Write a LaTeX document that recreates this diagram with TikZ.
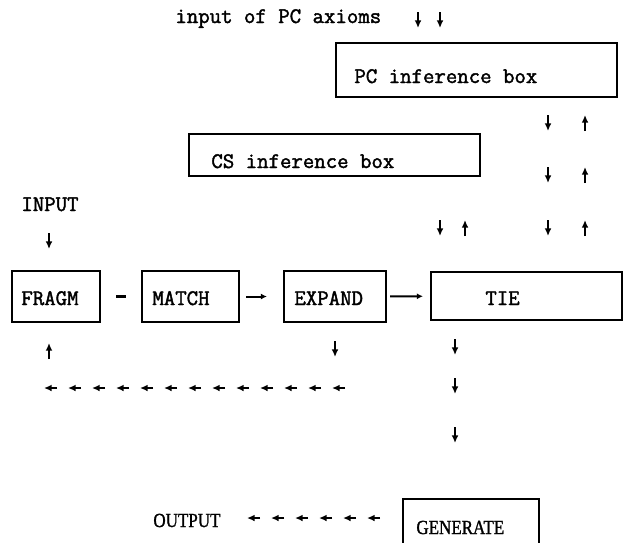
\documentclass[tikz,border=0pt]{standalone}
\usepackage{fontspec}
\usetikzlibrary{arrows.meta}
\newfontfamily\genfont[FakeBold=1.2, FakeStretch=0.85]{Liberation Serif}
\newfontfamily\typefont[FakeBold=1.8]{Latin Modern Mono}
\newcommand\tw{\typefont\fontsize{11.1}{13}\selectfont}
\newcommand\rw{\genfont\fontsize{10}{12}\selectfont}

\begin{document}
\begin{tikzpicture}[x=0.5pt, y=-0.5pt,
    box/.style={draw, line width=1.1pt, inner sep=0pt},
    lbl/.style={font=\tw, inner sep=0pt, anchor=base west},
    glyph/.style={line width=1.1pt, -{Latex[length=3.8pt, width=3.4pt]}},
    link/.style={line width=1pt, -{Latex[length=3pt, width=3pt]}}]
  \useasboundingbox (0,0) rectangle (624,542);
  \clip (0,0) rectangle (624,542);

  % boxes
  \node[box, minimum width=140.5pt, minimum height=27pt] (pc) at (476.5,70) {};
  \node[box, minimum width=145.5pt, minimum height=21pt] (cs) at (334.5,155) {};
  \node[box, minimum width=44pt, minimum height=25.5pt] (fragm) at (56,296.5) {};
  \node[box, minimum width=48.5pt, minimum height=25.5pt] (match) at (190.5,296.5) {};
  \node[box, minimum width=51pt, minimum height=25.5pt] (expand) at (335,296.5) {};
  \node[box, minimum width=95.5pt, minimum height=24pt] (tie) at (526.5,296) {};
  \node[box, minimum width=68pt, minimum height=30.5pt] (generate) at (471,529.5) {};

  % texts
  \node[lbl] (axioms) at (175,23) {input of PC axioms};
  \node[lbl] (pclbl) at (354,83) {PC inference box};
  \node[lbl] (cslbl) at (211,168) {CS inference box};
  \node[lbl] (input) at (21,211) {INPUT};
  \node[lbl] (fragmlbl) at (21,305) {FRAGM};
  \node[lbl] (matchlbl) at (152,305) {MATCH};
  \node[lbl] (expandlbl) at (294,305) {EXPAND};
  \node[lbl] (tielbl) at (485,305) {TIE};
  \node[lbl, font=\rw] (output) at (153,527) {OUTPUT};
  \node[lbl, font=\rw] (generatelbl) at (416,534) {GENERATE};

  % links along the row
  \draw[line width=1.2pt, shorten <=7.5pt, shorten >=7.5pt] (fragm) -- (match);
  \draw[link, shorten <=3pt, shorten >=8pt] (match) -- (expand);
  \draw[link, shorten <=1.5pt, shorten >=3.5pt] (expand) -- (tie);

  % single arrows
  \foreach \x/\y/\d [count=\i] in {418/12/1, 440/12/1, 440/220/1, 465/236/-1,
      49/233/1, 49/359/-1, 335/341/1, 455/339/1, 455/378/1, 455/427/1}{
    \coordinate (a\i) at (\x,\y);
    \draw[glyph] (a\i) -- ++(0,16*\d);
  }
  % PC <-> TIE
  \foreach \r [count=\i] in {115,167,220}{
    \coordinate (pd\i) at (548,\r);
    \coordinate (pu\i) at (585,\r+16);
    \draw[glyph] (pd\i) -- ++(0,16);
    \draw[glyph] (pu\i) -- ++(0,-16);
  }
  % back to FRAGM
  \foreach \k in {0,...,12}{
    \coordinate (b\k) at (57+24*\k,388);
    \draw[glyph] (b\k) -- ++(-13,0);
  }
  % to OUTPUT
  \foreach \k in {0,...,5}{
    \coordinate (o\k) at (260+24*\k,518);
    \draw[glyph] (o\k) -- ++(-13,0);
  }
\end{tikzpicture}
\end{document}
